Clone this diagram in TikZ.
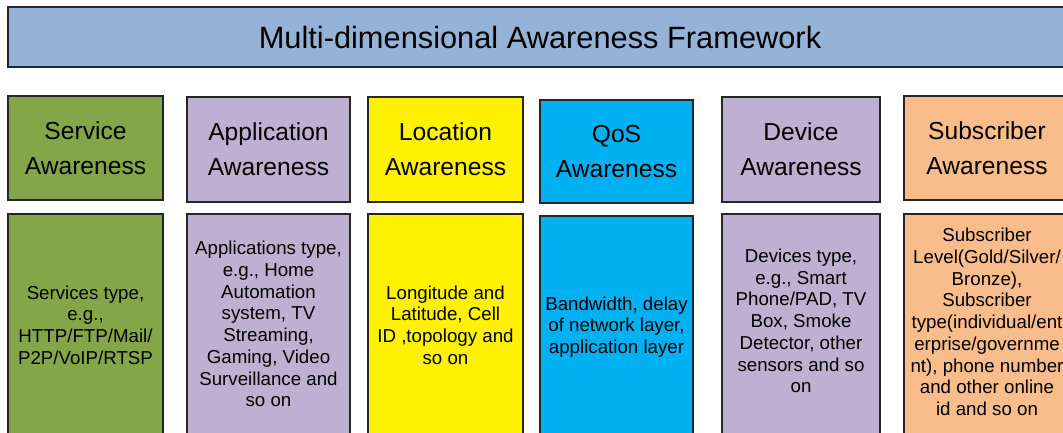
\documentclass[tikz,border=0pt]{standalone}
\usepackage{fontspec}
\setmainfont{Liberation Sans}
\definecolor{framecol}{RGB}{149,179,215}
\definecolor{servcol}{RGB}{132,166,72}
\definecolor{lavcol}{RGB}{191,176,210}
\definecolor{qoscol}{RGB}{0,176,240}
\definecolor{subcol}{RGB}{249,189,140}
\tikzset{
  awbox/.style={rectangle, draw=black!85, line width=1.3pt, inner sep=0pt},
  hdtext/.style={align=center, font=\fontsize{17.5}{25}\selectfont},
  bdtext/.style={align=center, font=\fontsize{13.3}{15.45}\selectfont},
}
\begin{document}
\begin{tikzpicture}[x=0.025cm, y=-0.025cm]
\useasboundingbox (0,0) rectangle (1063,433);
\clip (0,0) rectangle (1063,433);
\node[awbox, fill=framecol, minimum width=26.6cm, minimum height=1.5cm, font=\fontsize{21.9}{26}\selectfont] (frame) at (540,37){Multi-dimensional Awareness Framework};

\node[awbox, hdtext, fill=servcol, minimum width=3.875cm, minimum height=2.6cm] (hd0) at (85.5,148){Service\\Awareness};
\node[awbox, fill=servcol, minimum width=3.875cm, minimum height=6.4cm] (bd0) at (85.5,342){};
\node[bdtext] (tx0) at (85.5,325){Services type,\\e.g.,\\HTTP/FTP/Mail/\\P2P/VoIP/RTSP};

\node[awbox, hdtext, fill=lavcol, minimum width=4.075cm, minimum height=2.625cm] (hd1) at (268.5,149.5){Application\\Awareness};
\node[awbox, fill=lavcol, minimum width=4.075cm, minimum height=6.4cm] (bd1) at (268.5,342){};
\node[bdtext] (tx1) at (268.5,324){Applications type,\\e.g., Home\\Automation\\system, TV\\Streaming,\\Gaming, Video\\Surveillance and\\so on};

\node[awbox, hdtext, fill=yellow, minimum width=3.875cm, minimum height=2.625cm] (hd2) at (445.5,149.5){Location\\Awareness};
\node[awbox, fill=yellow, minimum width=3.875cm, minimum height=6.4cm] (bd2) at (445.5,342){};
\node[bdtext] (tx2) at (445.5,325){Longitude and\\Latitude, Cell\\ID ,topology and\\so on};

\node[awbox, hdtext, fill=qoscol, minimum width=3.825cm, minimum height=2.575cm] (hd3) at (616.5,151.5){QoS\\Awareness};
\node[awbox, fill=qoscol, minimum width=3.825cm, minimum height=6.4cm] (bd3) at (616.5,344){};
\node[bdtext] (tx3) at (616.5,327){Bandwidth, delay\\of network layer,\\application layer};

\node[awbox, hdtext, fill=lavcol, minimum width=3.95cm, minimum height=2.625cm] (hd4) at (801,149.5){Device\\Awareness};
\node[awbox, fill=lavcol, minimum width=3.95cm, minimum height=6.4cm] (bd4) at (801,342){};
\node[bdtext] (tx4) at (801,321){Devices type,\\e.g., Smart\\Phone/PAD, TV\\Box, Smoke\\Detector, other\\sensors and so\\on};

\node[awbox, hdtext, fill=subcol, minimum width=4.15cm, minimum height=2.6cm] (hd5) at (987,148){Subscriber\\Awareness};
\node[awbox, fill=subcol, minimum width=4.15cm, minimum height=6.4cm] (bd5) at (987,342){};
\node[bdtext] (tx5) at (987,322){Subscriber\\Level(Gold/Silver/\\Bronze),\\Subscriber\\type(individual/ent\\erprise/governme\\nt), phone number\\and other online\\id and so on};

\end{tikzpicture}
\end{document}
